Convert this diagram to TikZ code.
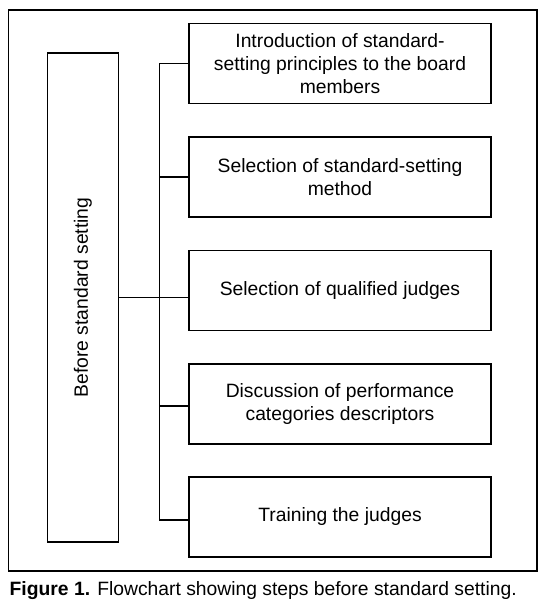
\documentclass[tikz,border=0pt]{standalone}
\usepackage{fontspec}
\setmainfont{Liberation Sans}
\begin{document}
\begin{tikzpicture}[x=1pt,y=-1pt,
  line width=1.4pt,
  stepbox/.style={draw, minimum width=302pt, minimum height=80pt, inner sep=0pt,
    align=center, font=\fontsize{19.3}{23}\selectfont},
  sidebox/.style={draw, minimum width=71pt, minimum height=489pt, inner sep=0pt}]
\useasboundingbox (0,0) rectangle (545,614);
\draw (8.5,10) rectangle (537,571);
\node[sidebox] (L) at (83,297.5) {};
\node[rotate=90, font=\fontsize{19.3}{23}\selectfont] (Lt) at (L.center) {Before standard setting};
\node[stepbox] (B1) at (340,63.5) {Introduction of standard-\\setting principles to the board\\members};
\node[stepbox] (B2) at (340,177) {Selection of standard-setting\\method};
\node[stepbox] (B3) at (340,290.5) {Selection of qualified judges};
\node[stepbox] (B4) at (340,404) {Discussion of performance\\categories descriptors};
\node[stepbox] (B5) at (340,517) {Training the judges};
\coordinate (tx) at (159.5,0);
\coordinate (b4) at ([yshift=-2pt]B4.west);
\coordinate (b5) at ([yshift=-3pt]B5.west);
\draw (L.east) -- (L.east -| B3.west);
\draw (B1.west) -- (B1.west -| tx) -- (b5 -| tx) -- (b5);
\draw (B2.west) -- (B2.west -| tx);
\draw (b4) -- (b4 -| tx);
\node[anchor=base west, inner sep=0pt, font=\fontsize{19.3}{22}\selectfont] (cap) at (9,595)
  {\textbf{Figure 1.} Flowchart showing steps before standard setting.};
\end{tikzpicture}
\end{document}
